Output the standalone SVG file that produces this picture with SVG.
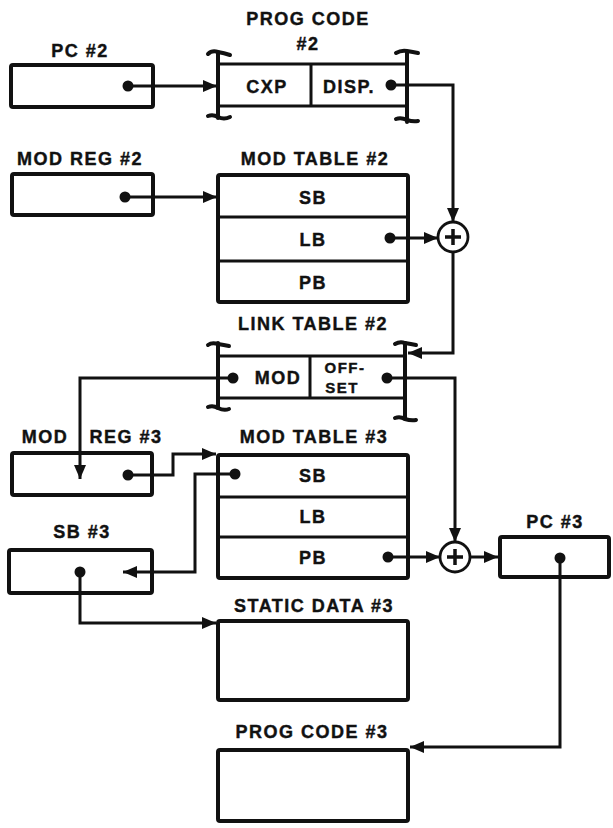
<svg xmlns="http://www.w3.org/2000/svg" width="613" height="828" viewBox="0 0 613 828">
<style>
  text{font-family:"Liberation Sans",Arial,sans-serif;font-weight:bold;font-size:18px;fill:#111;stroke:#111;stroke-width:0.4;text-anchor:middle;letter-spacing:1.5px}
  .small{font-size:15px;letter-spacing:1.5px}
  .box{fill:none;stroke:#111;stroke-width:4;stroke-linejoin:round}
  .row{fill:none;stroke:#111;stroke-width:3}
  .br{fill:none;stroke:#111;stroke-width:4;stroke-linecap:round}
  .wire{fill:none;stroke:#111;stroke-width:3;stroke-linejoin:miter}
  .dot{fill:#111}
  .sum{fill:#fff;stroke:#111;stroke-width:2.8}
  .plus{stroke:#111;stroke-width:3.5;fill:none}
</style>
<defs>
  <marker id="ah" viewBox="0 0 14 12" refX="14" refY="6" markerWidth="14" markerHeight="12" markerUnits="userSpaceOnUse" orient="auto">
    <path d="M0,0 L14,6 L0,12 z" fill="#111"/>
  </marker>
</defs>
<rect width="613" height="828" fill="#fff"/>

<g id="pc2">
  <text x="80" y="57">PC #2</text>
  <rect class="box" x="11" y="65" width="142" height="42" rx="2"/>
  <circle class="dot" cx="128" cy="86" r="5.5"/>
</g>

<g id="progcode2">
  <text x="308" y="25">PROG CODE</text>
  <text x="308" y="50">#2</text>
  <line class="row" x1="218" y1="64" x2="407" y2="64"/>
  <line class="row" x1="218" y1="106" x2="407" y2="106"/>
  <line class="row" x1="311" y1="64" x2="311" y2="106"/>
  <line class="br" x1="218" y1="52" x2="218" y2="118"/>
  <path class="br" d="M208 54 Q212 50 218 52 Q224 53 230 55"/>
  <path class="br" d="M208 116 Q213 114 218 117 Q224 120 230 117"/>
  <line class="br" x1="407" y1="52" x2="407" y2="122"/>
  <path class="br" d="M396 53 Q401 50 407 51 Q413 52 418 53"/>
  <path class="br" d="M396 119 Q401 117 407 120 Q413 122 418 121"/>
  <text x="267" y="93">CXP</text>
  <text x="349" y="93">DISP.</text>
  <circle class="dot" cx="391" cy="85" r="5.5"/>
</g>

<g id="modreg2">
  <text x="80" y="165">MOD REG #2</text>
  <rect class="box" x="12" y="174" width="141" height="41" rx="2"/>
  <circle class="dot" cx="125" cy="197" r="5.5"/>
</g>

<g id="modtable2">
  <text x="315" y="165">MOD TABLE #2</text>
  <rect class="box" x="218" y="175" width="190" height="127" rx="2"/>
  <line class="row" x1="218" y1="217" x2="408" y2="217"/>
  <line class="row" x1="218" y1="261" x2="408" y2="261"/>
  <text x="313" y="204">SB</text>
  <text x="313" y="246">LB</text>
  <text x="313" y="289">PB</text>
  <circle class="dot" cx="390" cy="238" r="5.5"/>
</g>

<g id="sum1">
  <circle class="sum" cx="453" cy="237" r="15"/>
  <path class="plus" d="M445 237 H461 M453 229 V245"/>
</g>

<g id="linktable2">
  <text x="313" y="330">LINK TABLE #2</text>
  <line class="row" x1="218" y1="356" x2="405" y2="356"/>
  <line class="row" x1="218" y1="398" x2="405" y2="398"/>
  <line class="row" x1="310" y1="356" x2="310" y2="398"/>
  <line class="br" x1="218" y1="343" x2="218" y2="408"/>
  <path class="br" d="M208 345 Q212 342 218 344 Q224 345 229 346"/>
  <path class="br" d="M208 407 Q213 405 218 408 Q224 411 229 409"/>
  <line class="br" x1="405" y1="343" x2="405" y2="419"/>
  <path class="br" d="M395 344 Q400 341 405 343 Q411 344 416 345"/>
  <path class="br" d="M395 418 Q400 416 405 419 Q411 421 416 420"/>
  <text x="278" y="384">MOD</text>
  <text class="small" x="345" y="373">OFF-</text>
  <text class="small" x="342" y="393">SET</text>
  <circle class="dot" cx="233" cy="378" r="5.5"/>
  <circle class="dot" cx="387" cy="378" r="5.5"/>
</g>

<g id="modreg3">
  <text x="45" y="443">MOD</text>
  <text x="126" y="443">REG #3</text>
  <rect class="box" x="12" y="453" width="140" height="42" rx="2"/>
  <circle class="dot" cx="128" cy="475" r="5.5"/>
</g>

<g id="modtable3">
  <text x="314" y="443">MOD TABLE #3</text>
  <rect class="box" x="218" y="455" width="190" height="123" rx="2"/>
  <line class="row" x1="218" y1="497" x2="408" y2="497"/>
  <line class="row" x1="218" y1="537" x2="408" y2="537"/>
  <text x="313" y="482">SB</text>
  <text x="313" y="523">LB</text>
  <text x="313" y="564">PB</text>
  <circle class="dot" cx="235" cy="474" r="5.5"/>
  <circle class="dot" cx="388" cy="557" r="5.5"/>
</g>

<g id="sb3">
  <text x="82" y="538">SB #3</text>
  <rect class="box" x="9" y="550" width="143" height="43" rx="2"/>
  <circle class="dot" cx="80" cy="572" r="5.5"/>
</g>

<g id="sum2">
  <circle class="sum" cx="455" cy="557" r="15"/>
  <path class="plus" d="M447 557 H463 M455 549 V565"/>
</g>

<g id="pc3">
  <text x="555" y="528">PC #3</text>
  <rect class="box" x="500" y="537" width="109" height="40" rx="2"/>
  <circle class="dot" cx="560" cy="558" r="5.5"/>
</g>

<g id="staticdata3">
  <text x="314" y="612">STATIC DATA #3</text>
  <rect class="box" x="218" y="621" width="190" height="79" rx="2"/>
</g>

<g id="progcode3">
  <text x="312" y="738">PROG CODE #3</text>
  <rect class="box" x="218" y="750" width="190" height="71" rx="2"/>
</g>

<g id="connectors">
  <path class="wire" d="M128 86 H217" marker-end="url(#ah)"/>
  <path class="wire" d="M125 197 H217" marker-end="url(#ah)"/>
  <path class="wire" d="M391 85 H453 V222" marker-end="url(#ah)"/>
  <path class="wire" d="M390 238 H438" marker-end="url(#ah)"/>
  <path class="wire" d="M453 252 V353 H408" marker-end="url(#ah)"/>
  <path class="wire" d="M233 378 H80 V479" marker-end="url(#ah)"/>
  <path class="wire" d="M387 378 H455 V542" marker-end="url(#ah)"/>
  <path class="wire" d="M128 475 H173 V454 H216" marker-end="url(#ah)"/>
  <path class="wire" d="M235 474 H195 V572 H123" marker-end="url(#ah)"/>
  <path class="wire" d="M80 572 V623 H216" marker-end="url(#ah)"/>
  <path class="wire" d="M388 557 H440" marker-end="url(#ah)"/>
  <path class="wire" d="M470 557 H498" marker-end="url(#ah)"/>
  <path class="wire" d="M560 558 V747 H410" marker-end="url(#ah)"/>
</g>
</svg>
